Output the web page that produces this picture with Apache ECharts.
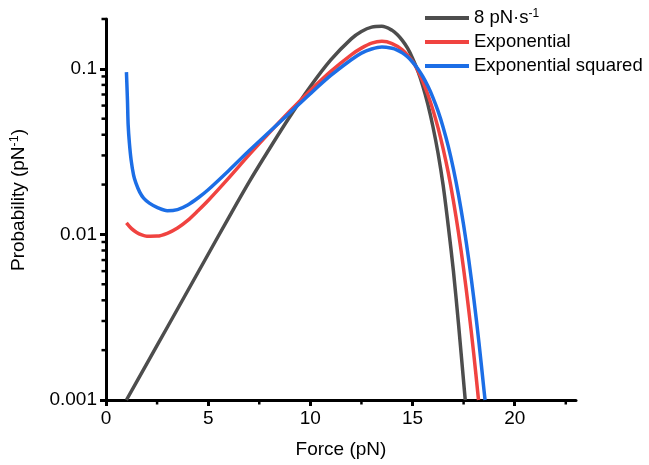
<!DOCTYPE html>
<html>
<head>
<meta charset="utf-8">
<script src="https://cdn.jsdelivr.net/npm/echarts@6/dist/echarts.min.js"></script>
<style>
  html, body { margin: 0; background: #fff; }
  #chart { width: 649px; height: 465px; }
</style>
</head>
<body>
<div id="chart"></div>
<script>
// 8 pN/s loading rate
var rateForce = [1, 2, 3, 4, 5, 6, 7, 8, 9, 10, 11, 12, 12.5, 13, 13.5, 14, 14.25, 14.5, 14.75, 15, 15.25, 15.5, 15.75, 16, 16.25, 16.5, 16.75, 17, 17.25, 17.5, 17.58];
var rateProb = [0.00100, 0.00166, 0.00275, 0.00457, 0.00759, 0.0126, 0.0207, 0.0329, 0.0515, 0.0782, 0.1132, 0.1517, 0.168, 0.1786, 0.1807, 0.171, 0.1612, 0.1486, 0.1337, 0.1161, 0.0979, 0.0791, 0.0611, 0.0447, 0.0309, 0.01972, 0.01122, 0.00603, 0.00288, 0.00129, 0.00100];

// Exponential
var expForce = [1, 1.25, 1.5, 1.75, 2, 2.5, 3, 3.5, 4, 4.5, 5, 6, 7, 8, 9, 10, 11, 12, 12.5, 13, 13.5, 14, 14.5, 15, 15.25, 15.5, 15.75, 16, 16.25, 16.5, 16.75, 17, 17.25, 17.5, 17.75, 18, 18.23];
var expProb = [0.01175, 0.01084, 0.01028, 0.00993, 0.00975, 0.00977, 0.01016, 0.01094, 0.01216, 0.01390, 0.01603, 0.02188, 0.0302, 0.0412, 0.0556, 0.0741, 0.0966, 0.1216, 0.1334, 0.1429, 0.1466, 0.1422, 0.1303, 0.1109, 0.0982, 0.0841, 0.0700, 0.0565, 0.0440, 0.0329, 0.0236, 0.01596, 0.01023, 0.00619, 0.00351, 0.00188, 0.00100];

// Exponential squared
var expSqForce = [1, 1.05, 1.085, 1.145, 1.23, 1.35, 1.465, 1.65, 1.84, 2.12, 2.52, 3, 3.5, 4, 4.5, 5, 6, 7, 8, 9, 10, 11, 12, 12.5, 13, 13.5, 14, 14.25, 14.5, 14.75, 15, 15.25, 15.5, 15.75, 16, 16.25, 16.5, 16.75, 17, 17.25, 17.5, 17.75, 18, 18.25, 18.5, 18.55];
var expSqProb = [0.0955, 0.0646, 0.0457, 0.0356, 0.0281, 0.0228, 0.0204, 0.0180, 0.01656, 0.01545, 0.01452, 0.0139, 0.01413, 0.01507, 0.01660, 0.01862, 0.02427, 0.0320, 0.0417, 0.0543, 0.0708, 0.0912, 0.1135, 0.1245, 0.1318, 0.1355, 0.1330, 0.1298, 0.1249, 0.1182, 0.1100, 0.1005, 0.0899, 0.0787, 0.0671, 0.0555, 0.0443, 0.0340, 0.0249, 0.01734, 0.01139, 0.00705, 0.00409, 0.00223, 0.00114, 0.00100];

// ticks
var xTicks = [0, 5, 10, 15, 20];
var xMinorTicks = [2.5, 7.5, 12.5, 17.5, 22.5];
var yTicks = [0.001, 0.01, 0.1];
var yTickLabels = ['0.001', '0.01', '0.1'];
var yMinorTicks = [0.002, 0.003, 0.004, 0.005, 0.006, 0.007, 0.008, 0.009,
                   0.02, 0.03, 0.04, 0.05, 0.06, 0.07, 0.08, 0.09, 0.2];

var font = 'Liberation Sans, Arial, sans-serif';

function pairs(xs, ys) {
    return xs.map(function (x, i) { return [x, ys[i]]; });
}

function curve(name, xs, ys, color, z) {
    return {
        name: name,
        type: 'line',
        data: pairs(xs, ys),
        smooth: 0.3,
        showSymbol: false,
        lineStyle: { color: color, width: 3.5 },
        itemStyle: { color: color },
        z: z
    };
}

var chart = echarts.init(document.getElementById('chart'));

var option = {
    animation: false,
    textStyle: { fontFamily: font },
    grid: { left: 103, right: 73, top: 19, bottom: 65 },
    legend: {
        orient: 'vertical',
        left: 420,
        top: 3,
        itemWidth: 44,
        itemHeight: 4,
        itemGap: 4,
        icon: 'rect',
        data: ['8 pN·s-1', 'Exponential', 'Exponential squared'],
        formatter: function (name) {
            if (name === '8 pN·s-1') return '8 pN·s{sup|-1}';
            return name;
        },
        textStyle: {
            fontFamily: font,
            fontSize: 18.5,
            lineHeight: 20,
            color: '#000',
            rich: {
                sup: { fontSize: 12, verticalAlign: 'top', lineHeight: 20, padding: [0, 0, 8, 0] }
            }
        }
    },
    xAxis: {
        type: 'value',
        min: 0,
        max: 23,
        name: 'Force (pN)',
        nameLocation: 'middle',
        nameGap: 40,
        nameTextStyle: { fontFamily: font, fontSize: 19, color: '#000' },
        splitLine: { show: false },
        axisLine: { onZero: false, lineStyle: { color: '#000', width: 3 } },
        axisTick: { length: 6, lineStyle: { width: 3, color: '#000' }, customValues: xTicks },
        axisLabel: { fontFamily: font, fontSize: 19, color: '#000', margin: 9, customValues: xTicks }
    },
    yAxis: {
        type: 'log',
        logBase: 10,
        min: 0.001,
        max: 0.2,
        name: 'Probability (pN{sup|-1})',
        nameLocation: 'middle',
        nameGap: 77,
        nameTextStyle: {
            fontFamily: font, fontSize: 19, color: '#000',
            padding: [0, 0, 0, 19],
            rich: { sup: { fontSize: 12.5, verticalAlign: 'top', padding: [0, 0, 8, 0] } }
        },
        splitLine: { show: false },
        axisLine: { lineStyle: { color: '#000', width: 3 } },
        axisTick: { length: 6, lineStyle: { width: 3, color: '#000' }, customValues: yTicks },
        axisLabel: {
            fontFamily: font, fontSize: 19, color: '#000', margin: 9,
            customValues: yTicks,
            formatter: function (v) {
                for (var i = 0; i < yTicks.length; i++) {
                    if (Math.abs(Math.log10(v) - Math.log10(yTicks[i])) < 1e-6) return yTickLabels[i];
                }
                return '';
            }
        }
    },
    series: [
        curve('8 pN·s-1', rateForce, rateProb, '#4d4d4d', 3),
        curve('Exponential', expForce, expProb, '#f04340', 4),
        curve('Exponential squared', expSqForce, expSqProb, '#1c6ee6', 5),
        {
            // minor ticks on y axis
            type: 'custom',
            silent: true,
            clip: false,
            data: yMinorTicks.map(function (v) { return [0, v]; }),
            renderItem: function (params, api) {
                var p = api.coord([api.value(0), api.value(1)]);
                return {
                    type: 'line',
                    shape: { x1: p[0] - 4.5, y1: p[1], x2: p[0], y2: p[1] },
                    style: { stroke: '#000', lineWidth: 2.5 }
                };
            },
            z: 10
        },
        {
            // minor ticks on x axis
            type: 'custom',
            silent: true,
            clip: false,
            data: xMinorTicks.map(function (v) { return [v, 0.001]; }),
            renderItem: function (params, api) {
                var p = api.coord([api.value(0), api.value(1)]);
                return {
                    type: 'line',
                    shape: { x1: p[0], y1: p[1], x2: p[0], y2: p[1] + 4.5 },
                    style: { stroke: '#000', lineWidth: 2.5 }
                };
            },
            z: 10
        }
    ]
};

chart.setOption(option);
</script>
</body>
</html>
